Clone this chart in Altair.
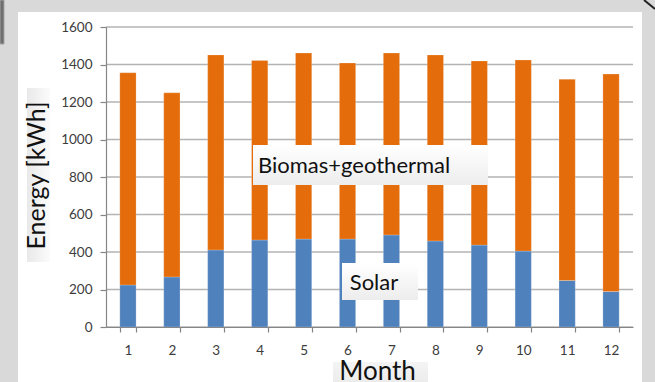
import altair as alt
import pandas as pd

# Monthly energy by source (kWh)
months = [1, 2, 3, 4, 5, 6, 7, 8, 9, 10, 11, 12]
solar = [224, 267, 411, 464, 469, 469, 491, 459, 437, 405, 248, 189]
biomass_geo = [1132, 982, 1040, 957, 992, 939, 970, 992, 982, 1019, 1074, 1160]
y_ticks = [0, 200, 400, 600, 800, 1000, 1200, 1400, 1600]

source_names = ["Solar", "Biomas+geothermal"]
source_colors = ["#4f81bd", "#e46c0a"]

rows = []
for m, s, b in zip(months, solar, biomass_geo):
    rows.append({"month": str(m), "source": source_names[0], "energy": s, "order": 0})
    rows.append({"month": str(m), "source": source_names[1], "energy": b, "order": 1})
df = pd.DataFrame(rows)
grid_df = pd.DataFrame({"energy": y_ticks})

FONT = "Lato"
W, H = 527, 300
one = alt.Data(values=[{}])

x_scale = alt.Scale(paddingInner=0.63, paddingOuter=0.315)
y_scale = alt.Scale(domain=[0, 1600])
y_axis = alt.Axis(
    title="Energy [kWh]", values=y_ticks, format="d", labelOverlap=False,
    grid=False, tickSize=6, labelPadding=8, titleBaseline="alphabetic",
    titleX=-62, titleY=148, zindex=1,
)


def box(x1, x2, y1, y2, fill, **kw):
    return alt.Chart(one).mark_rect(fill=fill, **kw).encode(
        x=alt.value(x1), x2=alt.value(x2), y=alt.value(y1), y2=alt.value(y2)
    )


# light panels behind the axis titles
title_box_y = box(-79, -56, 61, 235, alt.Gradient(
    gradient="linear", x1=0, y1=0, x2=1, y2=0,
    stops=[alt.GradientStop(color="#e9e9e9", offset=0), alt.GradientStop(color="#fbfbfb", offset=1)]))
title_box_x = box(227, 322, 335, 355, alt.Gradient(
    gradient="linear", x1=0, y1=0, x2=0, y2=1,
    stops=[alt.GradientStop(color="#f4f4f4", offset=0), alt.GradientStop(color="#ececec", offset=1)]))

# horizontal gridlines, one per y tick
grid = alt.Chart(grid_df).mark_rule(color="#b3b3b3", strokeWidth=1.6).encode(
    y=alt.Y("energy:Q", scale=y_scale, axis=y_axis)
)

bars = alt.Chart(df).mark_bar(stroke="#f2f2f2", strokeWidth=0.4, strokeOpacity=0.6).encode(
    x=alt.X(
        "month:N",
        sort=[str(m) for m in months],
        scale=x_scale,
        axis=alt.Axis(
            title="Month", labelAngle=0, tickBand="extent", tickSize=5,
            labelPadding=11, titleBaseline="alphabetic", titleY=52, titleX=271,
            titleAlign="center", zindex=1,
        ),
    ),
    y=alt.Y("energy:Q", stack="zero", scale=y_scale, axis=y_axis),
    color=alt.Color("source:N", scale=alt.Scale(domain=source_names, range=source_colors), legend=None),
    order=alt.Order("order:Q"),
)

label_fill = alt.Gradient(
    gradient="linear", x1=0, y1=0, x2=0, y2=1,
    stops=[alt.GradientStop(color="#ffffff", offset=0), alt.GradientStop(color="#ededed", offset=1)])
bio_box = box(147, 382, 118, 158, label_fill)
solar_box = box(236, 312, 236, 273, label_fill)
bio_text = alt.Chart(one).mark_text(
    text="Biomas+geothermal", font=FONT, fontSize=22, align="left", baseline="middle", color="#111111"
).encode(x=alt.value(152), y=alt.value(139))
solar_text = alt.Chart(one).mark_text(
    text="Solar", font=FONT, fontSize=22, align="center", baseline="middle", color="#111111"
).encode(x=alt.value(268), y=alt.value(256))

# window frame around the white sheet
frame_color = "#d9d9d9"
frame_left = box(-106, -88, -27, 355, frame_color)
frame_top = box(-106, 549, -27, -15, frame_color)
frame_right = box(536, 549, -27, 355, frame_color)
side_tab = box(-106, -102, -27, 17, "#6e6e6e", stroke="#a3a3a3", strokeWidth=1)
corner = alt.Chart(one).mark_rule(color="#222222", strokeWidth=2).encode(
    x=alt.value(538), x2=alt.value(549), y=alt.value(-27), y2=alt.value(-18)
)

chart = alt.layer(
    title_box_y, title_box_x, grid, bars, bio_box, solar_box, bio_text, solar_text,
    frame_left, frame_top, frame_right, side_tab, corner,
).properties(
    width=W, height=H,
    autosize=alt.AutoSizeParams(type="none"),
    padding={"left": 106, "top": 27, "right": 22, "bottom": 55},
    background="white",
).configure_view(stroke=None).configure_axis(
    labelFont=FONT, labelFontSize=13.5, labelColor="#3c3c3c",
    titleFont=FONT, titleFontSize=25, titleFontWeight="normal", titleColor="#111111",
    domainColor="#868686", tickColor="#868686", domainWidth=1.2, tickWidth=1.2,
).configure_axisX(titleFontSize=26)

chart.save("out.html", embed_options={"renderer": "svg", "actions": False})
